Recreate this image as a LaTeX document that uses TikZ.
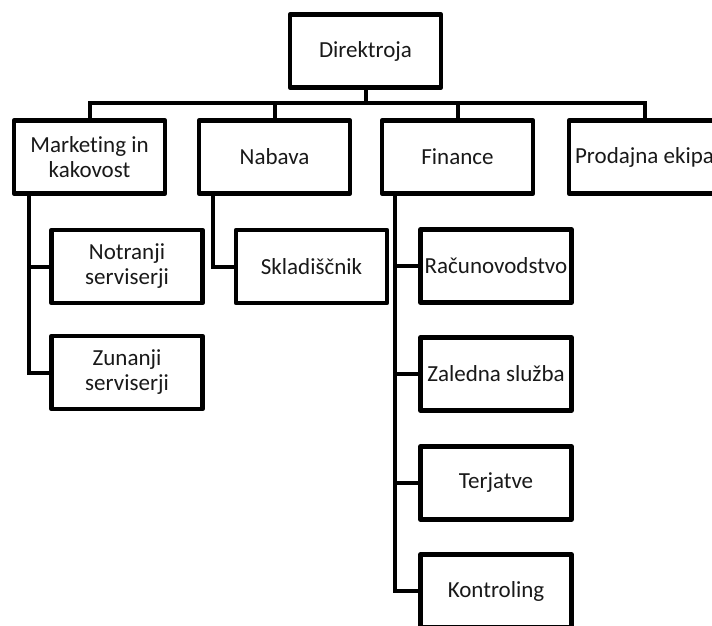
\documentclass[tikz,border=0pt]{standalone}
\usepackage{fontspec}
\setmainfont{Carlito}[Ligatures={NoCommon,NoContextual,NoRare}]
\begin{document}
\begin{tikzpicture}[x=1pt,y=-1pt,
  box/.style={draw, line width=4.5pt, line join=round, minimum width=151pt, minimum height=73pt,
    inner sep=0pt, align=center, text=black!90, font=\fontsize{23}{25}\selectfont},
  conn/.style={line width=4pt}]
\path[use as bounding box, clip] (0,0) rectangle (712,625);
\fill[white] (0,0) rectangle (712,625);
% top
\node[box] (dir) at (365.5,51) {Direktroja};
% level 2
\node[box] (mk) at (89.5,157) {Marke\kern0pt ting in\\kakovost};
\node[box] (nb) at (274.5,157) {Nabava};
\node[box] (fi) at (457.5,157) {Finance};
\node[box] (pe) at (644.5,157) {Prodajna ekipa};
% level 3
\node[box] (nt) at (127,266.5) {Notranji\\serviserji};
\node[box] (zn) at (127,372.5) {Zunanji\\serviserji};
\node[box] (sk) at (311.5,266.5) {Skladiščnik};
\node[box] (ra) at (496,266) {Računovodstvo};
\node[box] (za) at (496,374) {Zaledna služba};
\node[box] (te) at (496,483) {Terjatve};
\node[box] (ko) at (496,591) {Kontroling};
% bus
\coordinate (bus) at (365.5,103);
\draw[conn] (dir.south) -- (bus);
\draw[conn] (mk.north) -- (mk.north |- bus) -- (pe.north |- bus) -- (pe.north);
\draw[conn] (nb.north) -- (nb.north |- bus);
\draw[conn] (fi.north) -- (fi.north |- bus);
% branches
\draw[conn] ([xshift=17pt]mk.south west) |- (zn.west);
\draw[conn] ([xshift=17pt]mk.south west) |- (nt.west);
\draw[conn] ([xshift=16pt]nb.south west) |- (sk.west);
\draw[conn] ([xshift=15pt]fi.south west) |- (ko.west);
\draw[conn] ([xshift=15pt]fi.south west) |- (ra.west);
\draw[conn] ([xshift=15pt]fi.south west) |- (za.west);
\draw[conn] ([xshift=15pt]fi.south west) |- (te.west);
\end{tikzpicture}
\end{document}
